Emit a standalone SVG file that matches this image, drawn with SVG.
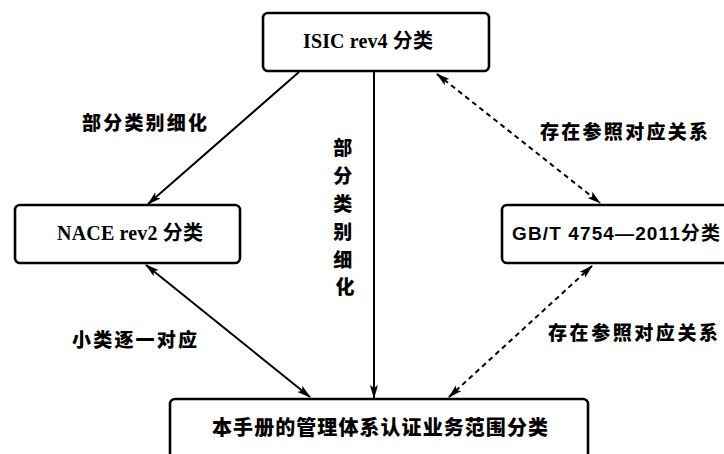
<svg xmlns="http://www.w3.org/2000/svg" width="724" height="454" viewBox="0 0 724 454">
<defs>
<style>
.box{fill:#fff;stroke:#000;stroke-width:2.6}
.ln{stroke:#000;stroke-width:2;fill:none}
.dash{stroke-dasharray:5 4}
.t{font-family:"Liberation Serif","Noto Sans CJK SC",serif;font-weight:bold;fill:#000}
.s{font-family:"Liberation Sans","Noto Sans CJK SC",sans-serif;font-weight:bold;fill:#000}
.c{font-family:"Noto Sans CJK SC",sans-serif;font-weight:900;fill:#000}
</style>
<marker id="ah" viewBox="0 0 14 8" markerWidth="14" markerHeight="8" refX="13" refY="4" orient="auto-start-reverse" markerUnits="userSpaceOnUse">
<path d="M0,0 L14,4 L0,8 L3,4 Z" fill="#000"/>
</marker>
</defs>
<rect width="724" height="454" fill="#fff"/>
<g id="connectors">
<line class="ln" x1="299" y1="72" x2="148" y2="204" marker-end="url(#ah)"/>
<line class="ln" x1="374" y1="72" x2="374" y2="398" marker-end="url(#ah)"/>
<line class="ln dash" x1="437" y1="74" x2="600" y2="203" marker-start="url(#ah)" marker-end="url(#ah)"/>
<line class="ln" x1="146" y1="265" x2="310" y2="397" marker-start="url(#ah)" marker-end="url(#ah)"/>
<line class="ln dash" x1="592" y1="266" x2="449" y2="397" marker-start="url(#ah)" marker-end="url(#ah)"/>
<text class="c" x="82" y="130" font-size="19" textLength="125">部分类别细化</text>
<text class="c" font-size="19" text-anchor="middle">
<tspan x="345" y="155">部</tspan>
<tspan x="345" y="183">分</tspan>
<tspan x="345" y="211">类</tspan>
<tspan x="345" y="239">别</tspan>
<tspan x="345" y="267">细</tspan>
<tspan x="345" y="294">化</tspan>
</text>
<text class="c" x="540" y="139" font-size="19" textLength="168">存在参照对应关系</text>
<text class="c" x="72" y="347" font-size="19" textLength="125">小类逐一对应</text>
<text class="c" x="548" y="340" font-size="19" textLength="170">存在参照对应关系</text>
</g>
<g id="isic">
<rect class="box" x="263" y="13" width="226" height="58" rx="5"/>
<text class="t" x="303" y="48" font-size="20" textLength="130">ISIC rev4 分类</text>
</g>
<g id="nace">
<rect class="box" x="15" y="205" width="225" height="58" rx="5"/>
<text class="t" x="57" y="240" font-size="20" textLength="146">NACE rev2 分类</text>
</g>
<g id="gbt">
<rect class="box" x="502" y="205" width="240" height="58" rx="5"/>
<text class="s" x="512" y="240" font-size="19" textLength="208">GB/T 4754—2011分类</text>
</g>
<g id="manual">
<rect class="box" x="170" y="399" width="418" height="80" rx="5"/>
<text class="c" x="212" y="435" font-size="20" textLength="336">本手册的管理体系认证业务范围分类</text>
</g>
</svg>
